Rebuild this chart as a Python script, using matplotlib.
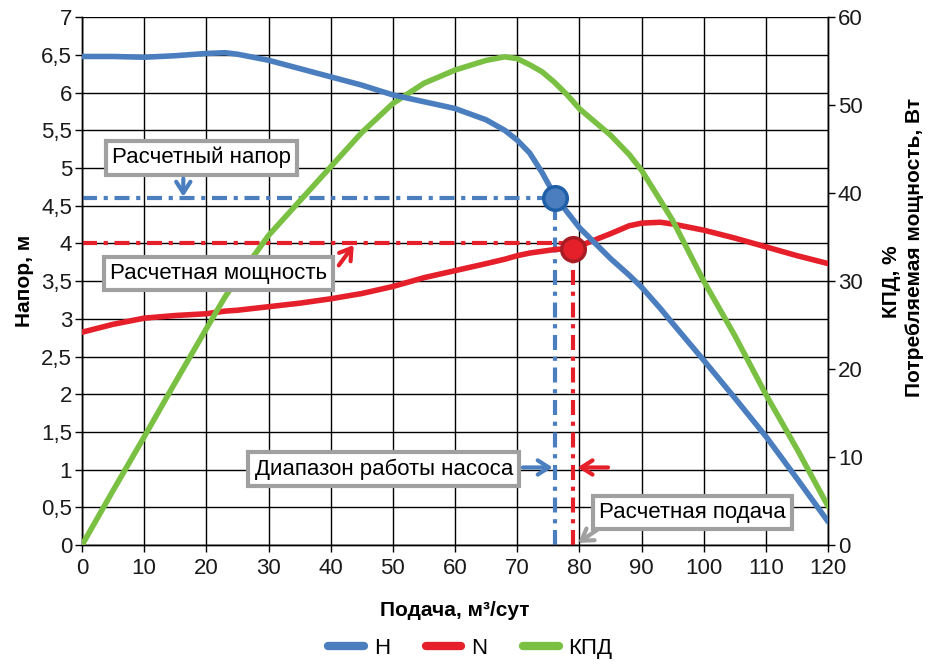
import matplotlib
matplotlib.use('Agg')
import matplotlib.pyplot as plt

plt.rcParams['font.family'] = ['Liberation Sans', 'DejaVu Sans']

BLUE = '#4A7EBF'
RED = '#E5202B'
GREEN = '#7AC143'
GRAY = '#A0A0A0'

# Подача, м3/сут
q = [0, 5, 10, 15, 20, 23, 25, 30, 35, 40, 45, 50, 55, 60, 65, 68, 70, 72, 74, 76, 78, 80,
     85, 88, 90, 93, 95, 100, 105, 110, 115, 120]
# Напор H, м
head = [6.48, 6.48, 6.47, 6.49, 6.52, 6.53, 6.51, 6.43, 6.32, 6.21, 6.10, 5.97, 5.88, 5.79, 5.64,
        5.50, 5.37, 5.20, 4.94, 4.64, 4.42, 4.21, 3.80, 3.58, 3.42, 3.14, 2.94, 2.45, 1.95,
        1.44, 0.88, 0.31]
# Потребляемая мощность N, Вт
power = [24.2, 25.1, 25.8, 26.1, 26.3, 26.6, 26.7, 27.1, 27.5, 28.0, 28.6, 29.4, 30.4, 31.2, 32.0,
         32.5, 32.9, 33.2, 33.4, 33.6, 33.7, 34.0, 35.4, 36.3, 36.6, 36.7, 36.5, 35.8, 34.9,
         33.9, 32.9, 32.0]
# КПД, %
eff = [0, 6.2, 12.3, 18.5, 24.6, 28.2, 30.3, 35.2, 39.1, 43.0, 46.9, 50.2, 52.5, 54.0, 55.1,
       55.5, 55.3, 54.6, 53.8, 52.6, 51.2, 49.6, 46.6, 44.4, 42.6, 39.2, 36.9, 30.0, 23.8,
       17.1, 10.9, 4.4]

# расчетная точка
q_h, h_design = 76, 4.6
q_n, n_design, n_level = 79, 33.7, 4.0

left_ticks = [i * 0.5 for i in range(15)]
left_labels = [('%g' % v).replace('.', ',') for v in left_ticks]
right_ticks = [0, 10, 20, 30, 40, 50, 60]
x_ticks = list(range(0, 121, 10))

fig = plt.figure(figsize=(9.41, 6.64), dpi=100, facecolor='white')
ax = fig.add_axes([0.0871, 0.179, 0.793, 0.795])
ax2 = ax.twinx()

ax.set_xlim(0, 120)
ax.set_ylim(0, 7)
ax2.set_ylim(0, 60)
ax.set_xticks(x_ticks)
ax.set_yticks(left_ticks)
ax.set_yticklabels(left_labels)
ax2.set_yticks(right_ticks)
ax.grid(True, color='black', lw=1.0)
ax.set_axisbelow(True)
for a in (ax, ax2):
    a.tick_params(labelsize=16, length=5, width=1, color='black', labelcolor='#1a1a1a', pad=2)
    for s in a.spines.values():
        s.set_linewidth(1.0)
ax.tick_params(axis='x', pad=4)
ax.spines['top'].set_visible(False)
ax2.spines['top'].set_visible(False)

ax.set_xlabel('Подача, м³/сут', fontsize=15, fontweight='bold', labelpad=16)
ax.set_ylabel('Напор, м', fontsize=15, fontweight='bold', labelpad=5)
ax2.set_ylabel('КПД, %', fontsize=15, fontweight='bold', labelpad=14)
fig.text(0.972, 0.627, 'Потребляемая мощность, Вт', rotation=90, fontsize=15,
         fontweight='bold', ha='center', va='center')

td = ax.transData

# расчетные линии
dash = (3.6, 1.6, 1.0, 1.6)
ax2.plot([0, q_h], [h_design, h_design], color=BLUE, lw=3, dashes=dash, transform=td, zorder=2)
ax2.plot([q_h, q_h], [0, h_design], color=BLUE, lw=3, dashes=dash, transform=td, zorder=2)
ax2.plot([0, q_n], [n_level, n_level], color=RED, lw=3, dashes=dash, transform=td, zorder=2)
ax2.plot([q_n, q_n], [0, n_design], color=RED, lw=3, dashes=dash, zorder=2)

# кривые
ln, = ax2.plot(q, power, color=RED, lw=4, solid_capstyle='round', label='N', zorder=3)
le, = ax2.plot(q, eff, color=GREEN, lw=4, solid_capstyle='round', label='КПД', zorder=3.1)
lh, = ax2.plot(q, head, color=BLUE, lw=4, solid_capstyle='round', label='H',
               transform=td, zorder=3.2)

ax2.plot([q_h], [h_design], 'o', ms=17, mfc=BLUE, mec='#1F5FA8', mew=2.5,
         transform=td, zorder=5)
ax2.plot([q_n], [n_design], 'o', ms=17, mfc=RED, mec='#A81C24', mew=2.5, zorder=5)

# подписи
box = dict(boxstyle='square,pad=0.28', fc='white', ec=GRAY, lw=3)
arrow = dict(arrowstyle='->,head_length=0.5,head_width=0.32', lw=3, shrinkA=0, shrinkB=0,
             mutation_scale=16)
ax2.text(19.2, 5.14, 'Расчетный напор', fontsize=16, ha='center', va='center',
         bbox=box, transform=td, zorder=6)
ax2.annotate('', xy=(16.3, 4.62), xytext=(16.3, 4.86), xycoords=td, textcoords=td,
             arrowprops=dict(arrow, color=BLUE), zorder=6)
ax2.text(22.0, 3.6, 'Расчетная мощность', fontsize=16, ha='center', va='center',
         bbox=box, transform=td, zorder=6)
ax2.annotate('', xy=(43.7, 3.98), xytext=(41.3, 3.71), xycoords=td, textcoords=td,
             arrowprops=dict(arrow, color=RED), zorder=6)
ax2.text(48.55, 1.01, 'Диапазон работы насоса', fontsize=16, ha='center', va='center',
         bbox=box, transform=td, zorder=6)
ax2.annotate('', xy=(75.7, 1.03), xytext=(70.9, 1.03), xycoords=td, textcoords=td,
             arrowprops=dict(arrow, color=BLUE), zorder=6)
ax2.annotate('', xy=(79.7, 1.03), xytext=(84.6, 1.03), xycoords=td, textcoords=td,
             arrowprops=dict(arrow, color=RED), zorder=6)
ax2.text(98.2, 0.43, 'Расчетная подача', fontsize=16, ha='center', va='center',
         bbox=box, transform=td, zorder=6)
ax2.annotate('', xy=(79.8, 0.03), xytext=(82.8, 0.2), xycoords=td, textcoords=td,
             arrowprops=dict(arrow, color=GRAY), zorder=6)

leg = fig.legend(handles=[lh, ln, le], loc='lower center', bbox_to_anchor=(0.5, -0.022), ncol=3,
                 frameon=False, fontsize=16, handlelength=1.6, columnspacing=1.6,
                 handletextpad=0.45)
for h in leg.legend_handles:
    h.set_linewidth(6)

fig.savefig('out.png', dpi=100, facecolor='white')
